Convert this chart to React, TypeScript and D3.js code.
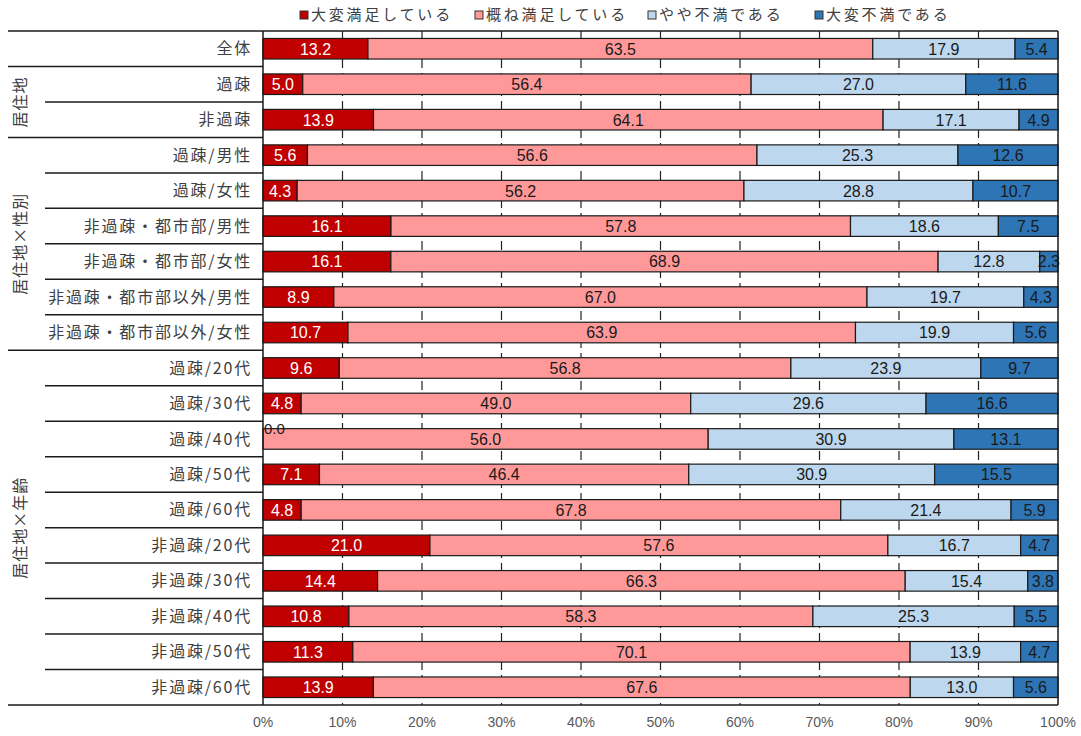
import React from "react";
import * as d3 from "d3";

const categories = [
  "全体", "過疎", "非過疎",
  "過疎/男性", "過疎/女性", "非過疎・都市部/男性", "非過疎・都市部/女性", "非過疎・都市部以外/男性", "非過疎・都市部以外/女性",
  "過疎/20代", "過疎/30代", "過疎/40代", "過疎/50代", "過疎/60代",
  "非過疎/20代", "非過疎/30代", "非過疎/40代", "非過疎/50代", "非過疎/60代",
];
const seriesNames = ["大変満足している", "概ね満足している", "やや不満である", "大変不満である"];
const verySatisfied = [13.2, 5.0, 13.9, 5.6, 4.3, 16.1, 16.1, 8.9, 10.7, 9.6, 4.8, 0.0, 7.1, 4.8, 21.0, 14.4, 10.8, 11.3, 13.9];
const mostlySatisfied = [63.5, 56.4, 64.1, 56.6, 56.2, 57.8, 68.9, 67.0, 63.9, 56.8, 49.0, 56.0, 46.4, 67.8, 57.6, 66.3, 58.3, 70.1, 67.6];
const somewhatDissatisfied = [17.9, 27.0, 17.1, 25.3, 28.8, 18.6, 12.8, 19.7, 19.9, 23.9, 29.6, 30.9, 30.9, 21.4, 16.7, 15.4, 25.3, 13.9, 13.0];
const veryDissatisfied = [5.4, 11.6, 4.9, 12.6, 10.7, 7.5, 2.3, 4.3, 5.6, 9.7, 16.6, 13.1, 15.5, 5.9, 4.7, 3.8, 5.5, 4.7, 5.6];
const groups = [
  { label: "", start: 0, end: 0 },
  { label: "居住地", start: 1, end: 2 },
  { label: "居住地×性別", start: 3, end: 8 },
  { label: "居住地×年齢", start: 9, end: 18 },
];
const xTicks = [0, 0.1, 0.2, 0.3, 0.4, 0.5, 0.6, 0.7, 0.8, 0.9, 1.0];

const colors = ["#C00000", "#FF9999", "#BDD7EE", "#2E75B6"];
const labelColors = ["#ffffff", "#1a1a1a", "#1a1a1a", "#1a1a1a"];

export default function App() {
  const W = 1081, H = 736;
  const left = 263, right = 1058, top = 31, bottom = 705;
  const x = d3.scaleLinear().domain([0, 1]).range([left, right]);
  const y = d3.scaleBand<number>().domain(d3.range(categories.length)).range([top, bottom]).paddingInner(0.42).paddingOuter(0.21);
  const rowY = d3.scaleLinear().domain([0, categories.length]).range([top, bottom]);
  const all = [verySatisfied, mostlySatisfied, somewhatDissatisfied, veryDissatisfied];
  const jp = "'Noto Sans CJK JP', sans-serif";
  const num = "'Liberation Sans', Arial, sans-serif";
  const legendX = [300, 475, 648, 815];

  const segs = categories.flatMap((c, r) => {
    const vals = all.map((s) => s[r]);
    const tot = d3.sum(vals);
    let acc = 0;
    return vals.map((v, k) => {
      const x0 = x(acc / tot);
      acc += v;
      const x1 = x(acc / tot);
      return { r, k, v, x0, x1, by: y(r)!, bh: y.bandwidth() };
    });
  });

  return (
    <svg width={W} height={H} style={{ position: "absolute", left: 0, top: 0, background: "#fff" }}>
      {/* legend */}
      {seriesNames.map((n, i) => (
        <g key={n} transform={`translate(${legendX[i]},15)`}>
          <rect x={0} y={-4} width={8} height={8} fill={colors[i]} stroke="#333" strokeWidth={1} />
          <text x={11} y={0} dy="0.35em" fontFamily={jp} fontSize={15} letterSpacing={2.8} fill="#404040">{n}</text>
        </g>
      ))}
      {/* grid */}
      {xTicks.slice(1, -1).map((t) => (
        <line key={t} x1={x(t)} x2={x(t)} y1={top} y2={bottom} stroke="#222" strokeWidth={1.2} strokeDasharray="9,5" />
      ))}
      {/* bars */}
      {segs.map((s) => (
        <rect key={`b${s.r}-${s.k}`} x={s.x0} y={s.by} width={s.x1 - s.x0} height={s.bh} fill={colors[s.k]} stroke="#1a1a1a" strokeWidth={1.2} />
      ))}
      {/* value labels */}
      {segs.map((s) =>
        s.v === 0 ? (
          <text key={`l${s.r}-${s.k}`} x={s.x0 + 1} y={s.by + 5} fontFamily={num} fontSize={15} fill="#1a1a1a">{s.v.toFixed(1)}</text>
        ) : (
          <text key={`l${s.r}-${s.k}`} x={(s.x0 + s.x1) / 2} y={s.by + s.bh / 2} dy="0.37em" textAnchor="middle" fontFamily={num} fontSize={16} fill={labelColors[s.k]}>{s.v.toFixed(1)}</text>
        )
      )}
      {/* row labels */}
      {categories.map((c, r) => (
        <text key={c} x={252} y={rowY(r + 0.5)} dy="0.35em" textAnchor="end" fontFamily={jp} fontSize={16} letterSpacing={1.8} fill="#404040">{c}</text>
      ))}
      {/* separators */}
      {categories.map((c, r) => {
        if (r === 0) return null;
        const isGroupStart = groups.some((g) => g.start === r);
        return <line key={"s" + r} x1={isGroupStart ? 8 : 45} x2={left} y1={rowY(r)} y2={rowY(r)} stroke="#1a1a1a" strokeWidth={1.5} />;
      })}
      {/* group labels */}
      {groups.filter((g) => g.label).map((g) => {
        const cy = (rowY(g.start) + rowY(g.end + 1)) / 2;
        return (
          <text key={g.label} transform={`translate(20,${cy}) rotate(-90)`} textAnchor="middle" dy="0.35em" fontFamily={jp} fontSize={16} letterSpacing={1} fill="#404040">{g.label}</text>
        );
      })}
      {/* frame */}
      <line x1={8} x2={right} y1={top} y2={top} stroke="#1a1a1a" strokeWidth={1.5} />
      <line x1={8} x2={right} y1={bottom} y2={bottom} stroke="#1a1a1a" strokeWidth={1.5} />
      <line x1={left} x2={left} y1={top} y2={bottom} stroke="#1a1a1a" strokeWidth={1.5} />
      <line x1={right} x2={right} y1={top} y2={bottom} stroke="#1a1a1a" strokeWidth={1.5} />
      {/* x axis labels */}
      {xTicks.map((t) => (
        <text key={t} x={x(t)} y={722} dy="0.35em" textAnchor="middle" fontFamily="'Liberation Sans Narrow', 'Liberation Sans', sans-serif" fontSize={14} fill="#595959">{d3.format(".0%")(t)}</text>
      ))}
    </svg>
  );
}
